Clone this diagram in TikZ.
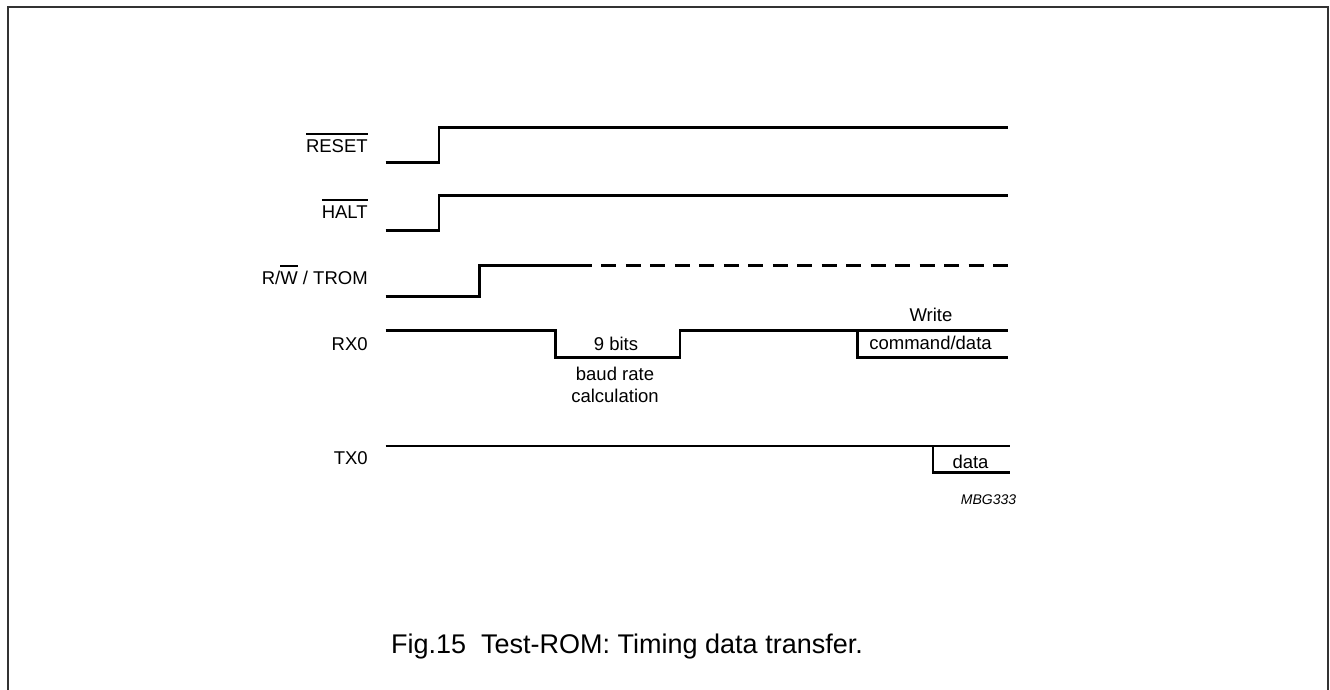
\documentclass[tikz,border=0pt]{standalone}
\usepackage{fontspec}
\setmainfont{Liberation Sans}
\newcommand\ovl[1]{\leavevmode\vbox{\hrule height 1.6pt\kern 5pt\hbox{#1}}}
\tikzset{
  wave/.style={line width=2.7pt, line join=miter},
  frame/.style={line width=2pt, draw=black!80},
  lbl/.style={font=\fontsize{18.5}{22}\selectfont, inner sep=0pt, outer sep=0pt},
  sig/.style={lbl, anchor=base east},
  txt/.style={lbl, anchor=base},
}
\begin{document}
\begin{tikzpicture}[x=1pt,y=-1pt]
\useasboundingbox (0,0) rectangle (1330,690);
\draw[frame] (7.5,692) -- (7.5,7.5) -- (1327.5,7.5) -- (1327.5,692);

% signal names
\node[sig] (nreset) at (367.7,152.6) {\ovl{RESET}};
\node[sig] (nhalt) at (367.7,218.3) {\ovl{HALT}};
\node[sig] (nrw) at (367.7,284.3) {R/\ovl{W} / TROM};
\node[sig] (nrx) at (367.7,350.3) {RX0};
\node[sig] (ntx) at (367.7,464.6) {TX0};

% RESET
\draw[wave] (385.7,162.7) -- (439,162.7) -- (439,127.3) -- (1008,127.3);
% HALT
\draw[wave] (385.7,230.3) -- (439,230.3) -- (439,195.7) -- (1008,195.7);
% R/W / TROM
\draw[wave] (385.7,296.3) -- (479.3,296.3) -- (479.3,265.7) -- (577,265.7);
\draw[wave, dash pattern=on 15pt off 9.47pt] (577,265.7) -- (1008,265.7);
% RX0
\draw[wave] (385.7,330.3) -- (555.3,330.3) -- (555.3,357.3) -- (680,357.3) -- (680,330.3) -- (1008,330.3);
\draw[wave] (857.3,330.3) -- (857.3,357.3) -- (1008,357.3);
% TX0
\draw[wave] (385.7,446) -- (1010,446);
\draw[wave] (933,446) -- (933,472.7) -- (1010,472.7);

% annotations
\node[txt] (bits) at (616,350.6) {9 bits};
\node[txt] (baud) at (615,380.6) {baud rate};
\node[txt] (calc) at (615,402.6) {calculation};
\node[txt] (write) at (931,321.6) {Write};
\node[txt] (cmd) at (930.5,349.6) {command/data};
\node[txt] (data) at (970.5,468.2) {data};
\node[anchor=base, inner sep=0pt, font=\fontsize{14}{16}\selectfont\itshape] (mbg) at (988.5,504) {MBG333};

% caption
\node[anchor=base, inner sep=0pt, font=\fontsize{27}{32}\selectfont] (cap) at (627,653) {Fig.15\ \ Test-ROM: Timing data transfer.};
\end{tikzpicture}
\end{document}
